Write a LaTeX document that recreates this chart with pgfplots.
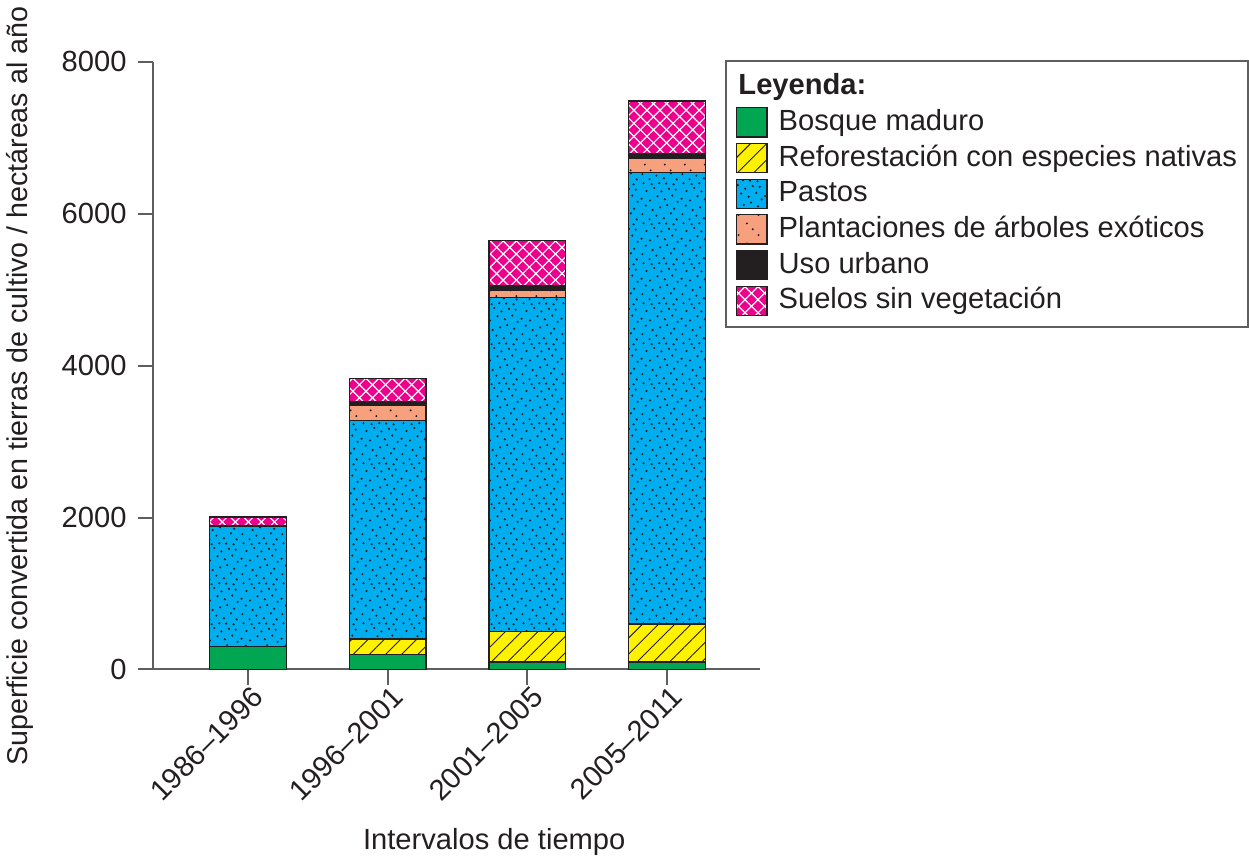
\documentclass[border=0pt]{standalone}
\usepackage{fontspec}
\setmainfont{Liberation Sans}
\usepackage{pgfplots}
\pgfplotsset{compat=1.18}
\usetikzlibrary{patterns,patterns.meta}

\definecolor{cgreen}{RGB}{0,166,81}
\definecolor{cyellow}{RGB}{255,242,0}
\definecolor{cblue}{RGB}{0,174,239}
\definecolor{csalmon}{RGB}{246,160,126}
\definecolor{cblack}{RGB}{35,31,32}
\definecolor{cmagenta}{RGB}{236,0,140}
\definecolor{axgray}{RGB}{95,95,95}
\definecolor{txt}{RGB}{35,31,32}

\pgfdeclarepatternformonly{pastodots}{\pgfqpoint{0pt}{0pt}}{\pgfqpoint{20pt}{20pt}}{\pgfqpoint{20pt}{20pt}}{%
 \pgfpathcircle{\pgfqpoint{1.2pt}{3.5pt}}{0.6pt}
 \pgfpathcircle{\pgfqpoint{4.8pt}{0.9pt}}{0.6pt}
 \pgfpathcircle{\pgfqpoint{8.3pt}{2.7pt}}{0.6pt}
 \pgfpathcircle{\pgfqpoint{12.1pt}{1.4pt}}{0.6pt}
 \pgfpathcircle{\pgfqpoint{15.7pt}{3.9pt}}{0.6pt}
 \pgfpathcircle{\pgfqpoint{18.6pt}{0.8pt}}{0.6pt}
 \pgfpathcircle{\pgfqpoint{2.9pt}{7.8pt}}{0.6pt}
 \pgfpathcircle{\pgfqpoint{6.4pt}{5.6pt}}{0.6pt}
 \pgfpathcircle{\pgfqpoint{10.2pt}{6.9pt}}{0.6pt}
 \pgfpathcircle{\pgfqpoint{13.8pt}{8.1pt}}{0.6pt}
 \pgfpathcircle{\pgfqpoint{17.3pt}{6.2pt}}{0.6pt}
 \pgfpathcircle{\pgfqpoint{0.8pt}{11.3pt}}{0.6pt}
 \pgfpathcircle{\pgfqpoint{5.1pt}{10.4pt}}{0.6pt}
 \pgfpathcircle{\pgfqpoint{8.9pt}{12.6pt}}{0.6pt}
 \pgfpathcircle{\pgfqpoint{12.6pt}{11.0pt}}{0.6pt}
 \pgfpathcircle{\pgfqpoint{16.4pt}{12.9pt}}{0.6pt}
 \pgfpathcircle{\pgfqpoint{19.1pt}{9.7pt}}{0.6pt}
 \pgfpathcircle{\pgfqpoint{3.3pt}{15.2pt}}{0.6pt}
 \pgfpathcircle{\pgfqpoint{7.2pt}{16.8pt}}{0.6pt}
 \pgfpathcircle{\pgfqpoint{10.9pt}{15.0pt}}{0.6pt}
 \pgfpathcircle{\pgfqpoint{14.7pt}{16.3pt}}{0.6pt}
 \pgfpathcircle{\pgfqpoint{18.1pt}{15.9pt}}{0.6pt}
 \pgfpathcircle{\pgfqpoint{1.8pt}{19.1pt}}{0.6pt}
 \pgfpathcircle{\pgfqpoint{5.9pt}{18.7pt}}{0.6pt}
 \pgfpathcircle{\pgfqpoint{9.8pt}{19.2pt}}{0.6pt}
 \pgfpathcircle{\pgfqpoint{13.3pt}{19.0pt}}{0.6pt}
 \pgfpathcircle{\pgfqpoint{17.0pt}{18.6pt}}{0.6pt}
 \pgfusepath{fill}
}
\pgfdeclarepatternformonly{salmondots}{\pgfqpoint{0pt}{0pt}}{\pgfqpoint{10pt}{10pt}}{\pgfqpoint{10pt}{10pt}}{%
 \pgfpathcircle{\pgfqpoint{2pt}{8pt}}{0.55pt}
 \pgfpathcircle{\pgfqpoint{5pt}{5pt}}{0.55pt}
 \pgfpathcircle{\pgfqpoint{8pt}{2pt}}{0.55pt}
 \pgfusepath{fill}
}

\pgfplotsset{sq legend/.style={legend image code/.code={\draw[##1,line width=0.6pt] (0pt,-7.25pt) rectangle (15pt,7.25pt);}}}

\begin{document}
\begin{tikzpicture}
\begin{axis}[
  scale only axis, width=302.5pt, height=302.5pt,
  xmin=-0.683, xmax=3.669, ymin=0, ymax=8000,
  axis lines*=left,
  axis line style={draw=axgray, line width=1pt},
  ybar stacked, bar width=0.55,
  xtick={0,1,2,3},
  xticklabels={1986–1996,1996–2001,2001–2005,2005–2011},
  ytick={0,2000,4000,6000,8000},
  scaled y ticks=false,
  /pgf/number format/1000 sep={},
  /pgf/number format/assume math mode=true,
  tick align=outside,
  major tick length=7.5pt,
  tick style={draw=axgray, line width=1pt},
  font=\fontsize{14.5}{17}\selectfont,
  every tick label/.append style={text=txt},
  x tick label style={rotate=45, anchor=north east, inner sep=1pt, xshift=2pt},
  y tick label style={xshift=-2pt},
  xlabel={Intervalos de tiempo},
  xlabel style={at={(axis description cs:0.562,-0.283)}, anchor=center, text=txt},
  ylabel={Superficie convertida en tierras de cultivo / hectáreas al año},
  ylabel style={at={(axis description cs:-0.218,0.466)}, anchor=center, text=txt, font=\fontsize{14.25}{17}\selectfont},
  legend cell align=left,
  legend style={at={(axis description cs:0.942,1.003)}, anchor=north west,
    draw=axgray, line width=1pt, text=txt,
    inner xsep=5pt, inner ysep=4pt,
    column sep=5pt, row sep=0pt,
    nodes={inner sep=0.5pt, text height=12.4pt, text depth=4.35pt},
    font=\fontsize{14.5}{17}\selectfont},
]
\addlegendimage{empty legend}
\addlegendentry{\hspace*{-20pt}\textbf{Leyenda:}}
\addplot[draw=cblack, line width=0.7pt, fill=cgreen, sq legend]
  coordinates {(0,300) (1,200) (2,100) (3,100)};
\addlegendentry{Bosque maduro}
\addplot[draw=cblack, line width=0.7pt, fill=cyellow, sq legend,
  postaction={pattern={Lines[angle=45,distance=5.7pt,line width=0.45pt]}, pattern color=cblack}]
  coordinates {(0,0) (1,200) (2,400) (3,500)};
\addlegendentry{Reforestación con especies nativas}
\addplot[draw=cblack, line width=0.7pt, fill=cblue, sq legend,
  postaction={pattern=pastodots, pattern color=cblack}]
  coordinates {(0,1590) (1,2880) (2,4400) (3,5940)};
\addlegendentry{Pastos}
\addplot[draw=cblack, line width=0.7pt, fill=csalmon, sq legend,
  postaction={pattern=salmondots, pattern color=cblack}]
  coordinates {(0,0) (1,195) (2,90) (3,185)};
\addlegendentry{Plantaciones de árboles exóticos}
\addplot[draw=cblack, line width=0.7pt, fill=cblack, sq legend]
  coordinates {(0,0) (1,55) (2,60) (3,60)};
\addlegendentry{Uso urbano}
\addplot[draw=cblack, line width=0.7pt, fill=cmagenta, sq legend,
  postaction={pattern={Lines[angle=45,distance=4.6pt,line width=0.6pt]}, pattern color=white},
  postaction={pattern={Lines[angle=-45,distance=4.6pt,line width=0.6pt]}, pattern color=white}]
  coordinates {(0,115) (1,300) (2,600) (3,700)};
\addlegendentry{Suelos sin vegetación}
\end{axis}
\end{tikzpicture}
\end{document}
